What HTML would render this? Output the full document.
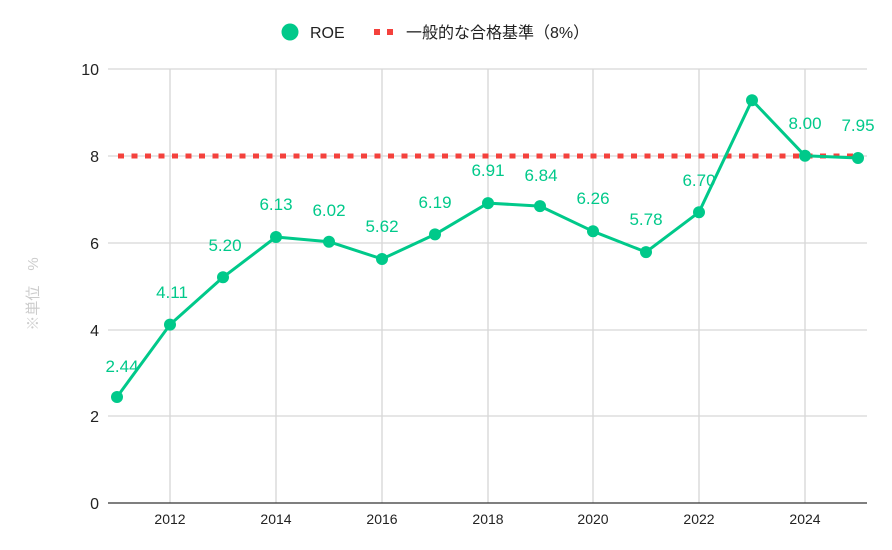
<!DOCTYPE html>
<html><head><meta charset="utf-8"><style>
body{margin:0;background:#fff;}
svg{display:block;font-family:"Liberation Sans","Noto Sans CJK JP",sans-serif;}
</style></head><body>
<svg width="892" height="550" viewBox="0 0 892 550">
<g stroke="#d6d6d6" stroke-width="1.3">
<line x1="108" y1="69" x2="867" y2="69"/><line x1="108" y1="156" x2="867" y2="156"/><line x1="108" y1="243" x2="867" y2="243"/><line x1="108" y1="330" x2="867" y2="330"/><line x1="108" y1="416" x2="867" y2="416"/>
<line x1="170" y1="69" x2="170" y2="503"/><line x1="276" y1="69" x2="276" y2="503"/><line x1="382" y1="69" x2="382" y2="503"/><line x1="488" y1="69" x2="488" y2="503"/><line x1="593" y1="69" x2="593" y2="503"/><line x1="699" y1="69" x2="699" y2="503"/><line x1="805" y1="69" x2="805" y2="503"/>
</g>
<line x1="108" y1="503" x2="867" y2="503" stroke="#333" stroke-width="1.3"/>
<g font-size="16" fill="#222" text-anchor="end">
<text x="99" y="75">10</text><text x="99" y="162">8</text><text x="99" y="249">6</text><text x="99" y="336">4</text><text x="99" y="422">2</text><text x="99" y="509">0</text>
</g>
<g font-size="14" fill="#222" text-anchor="middle">
<text x="170" y="524">2012</text><text x="276" y="524">2014</text><text x="382" y="524">2016</text><text x="488" y="524">2018</text><text x="593" y="524">2020</text><text x="699" y="524">2022</text><text x="805" y="524">2024</text>
</g>
<text transform="translate(38,294) rotate(-90)" font-size="15" fill="#ccc" text-anchor="middle">※単位　%</text>
<line x1="118" y1="156" x2="860" y2="156" stroke="#f4413c" stroke-width="5" stroke-dasharray="6,7.5"/>
<polyline fill="none" stroke="#00c98a" stroke-width="3" stroke-linejoin="round" points="117,397 170,324.6 223,277.3 276,237 329,241.7 382,259 435,234.4 488,203.1 540,206.1 593,231.3 646,252.1 699,212.2 752,100.2 805,155.8 858,158"/>
<g fill="#00c98a">
<circle cx="117" cy="397" r="6"/><circle cx="170" cy="324.6" r="6"/><circle cx="223" cy="277.3" r="6"/><circle cx="276" cy="237" r="6"/><circle cx="329" cy="241.7" r="6"/><circle cx="382" cy="259" r="6"/><circle cx="435" cy="234.4" r="6"/><circle cx="488" cy="203.1" r="6"/><circle cx="540" cy="206.1" r="6"/><circle cx="593" cy="231.3" r="6"/><circle cx="646" cy="252.1" r="6"/><circle cx="699" cy="212.2" r="6"/><circle cx="752" cy="100.2" r="6"/><circle cx="805" cy="155.8" r="6"/><circle cx="858" cy="158" r="6"/>
</g>
<g font-size="17" fill="#00c98a" text-anchor="middle">
<text x="122" y="372">2.44</text><text x="172" y="298">4.11</text><text x="225" y="251">5.20</text><text x="276" y="210">6.13</text><text x="329" y="216">6.02</text><text x="382" y="232">5.62</text><text x="435" y="208">6.19</text><text x="488" y="176">6.91</text><text x="541" y="181">6.84</text><text x="593" y="204">6.26</text><text x="646" y="225">5.78</text><text x="699" y="186">6.70</text><text x="805" y="129">8.00</text><text x="858" y="131">7.95</text>
</g>
<circle cx="290" cy="32" r="8.5" fill="#00c98a"/>
<text x="310" y="38" font-size="16" fill="#222">ROE</text>
<rect x="374" y="29" width="6" height="6" fill="#f4413c"/><rect x="387" y="29" width="6" height="6" fill="#f4413c"/>
<text x="406" y="38" font-size="16" fill="#222">一般的な合格基準（8%）</text>
</svg>
</body></html>
